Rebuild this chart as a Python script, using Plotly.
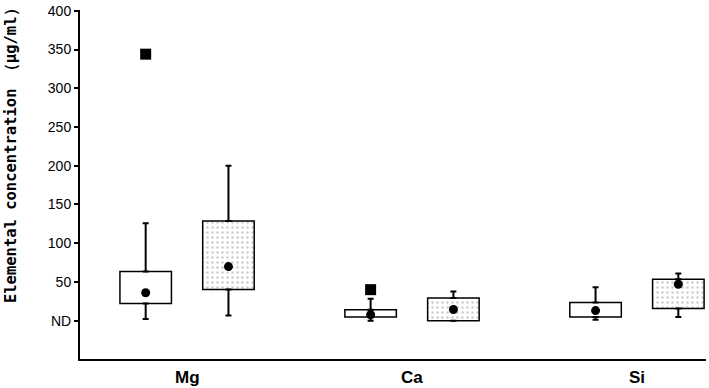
import plotly.graph_objects as go

categories = ["Mg", "Ca", "Si"]
# group A (open boxes)
a_lower = [2, 0, 1.3]
a_q1 = [22, 4.7, 4.6]
a_mean = [36, 7.6, 13]
a_q3 = [63.5, 14, 23.3]
a_upper = [125.6, 28.3, 43]
a_outlier_cat = [0, 1]
a_outlier_val = [344, 40]
# group B (dotted boxes)
b_lower = [6.8, 0, 4.7]
b_q1 = [40.2, 0, 15.6]
b_mean = [69.8, 14.4, 47]
b_q3 = [128.6, 29.2, 53.3]
b_upper = [200, 37.7, 61]

y_tickvals = [0, 50, 100, 150, 200, 250, 300, 350, 400]
y_ticktext = ["ND", "50", "100", "150", "200", "250", "300", "350", "400"]

OFF = 0.184
W = 0.229
idx = list(range(len(categories)))
xa = [i - OFF for i in idx]
xb = [i + OFF for i in idx]

fig = go.Figure()

def add_group(xs, lower, q1, mean, q3, upper, patterned):
    marker = dict(color="white", line=dict(color="black", width=1.5))
    if patterned:
        marker["pattern"] = dict(shape=".", fgcolor="#9a9a9a", bgcolor="white", size=5, solidity=0.2)
    fig.add_trace(go.Bar(
        x=xs, y=[t - b for t, b in zip(q3, q1)], base=q1, width=W,
        marker=marker, showlegend=False, hoverinfo="skip"))
    fig.add_trace(go.Scatter(
        x=xs, y=q3, mode="markers", marker=dict(size=1, color="rgba(0,0,0,0)"),
        error_y=dict(type="data", symmetric=False,
                     array=[u - t for u, t in zip(upper, q3)],
                     arrayminus=[0] * len(q3), width=3, thickness=2, color="black"),
        showlegend=False, hoverinfo="skip"))
    fig.add_trace(go.Scatter(
        x=xs, y=q1, mode="markers", marker=dict(size=1, color="rgba(0,0,0,0)"),
        error_y=dict(type="data", symmetric=False,
                     array=[0] * len(q1),
                     arrayminus=[b - l for b, l in zip(q1, lower)], width=3, thickness=2, color="black"),
        showlegend=False, hoverinfo="skip"))
    fig.add_trace(go.Scatter(
        x=xs, y=mean, mode="markers",
        marker=dict(symbol="circle", size=9, color="black"),
        showlegend=False, hoverinfo="skip"))

add_group(xa, a_lower, a_q1, a_mean, a_q3, a_upper, False)
add_group(xb, b_lower, b_q1, b_mean, b_q3, b_upper, True)

fig.add_trace(go.Scatter(
    x=[xa[c] for c in a_outlier_cat], y=a_outlier_val, mode="markers",
    marker=dict(symbol="square", size=11, color="black"),
    showlegend=False, hoverinfo="skip"))

narrow = "Liberation Sans Narrow, Arial Narrow, Liberation Sans, sans-serif"

annotations = [dict(
    text="<b>%s</b>" % c, xref="x", yref="paper", x=i, y=0,
    xanchor="center", yanchor="top", yshift=-7, showarrow=False,
    font=dict(family=narrow, size=17, color="black"),
) for i, c in zip(idx, categories)]
annotations.append(dict(
    text="<b>Elemental concentration （μg/ml）</b>",
    xref="paper", yref="paper", x=-0.109, y=0.595, xanchor="center", yanchor="middle",
    textangle=-90, showarrow=False,
    font=dict(family="DejaVu Sans Mono, monospace", size=15.5, color="black"),
))

fig.update_layout(
    width=709, height=388,
    margin=dict(l=80, r=3, t=5, b=29),
    paper_bgcolor="white", plot_bgcolor="white",
    barmode="overlay",
    xaxis=dict(
        range=[-0.476, 2.307], tickvals=idx, showticklabels=False,
        showgrid=False, zeroline=False, showline=True, linecolor="black", linewidth=2,
        ticks="",
    ),
    yaxis=dict(
        range=[-49.5, 401], tickvals=y_tickvals, ticktext=y_ticktext,
        showgrid=False, zeroline=False, showline=True, linecolor="black", linewidth=2,
        ticks="outside", ticklen=4, tickwidth=1.5, tickcolor="black",
        tickfont=dict(family=narrow, size=14, color="black"),
        ticklabeloverflow="allow",
    ),
    annotations=annotations,
)

fig.write_html("out.html", config={"displayModeBar": False},
               post_script="document.body.style.margin='0';")
